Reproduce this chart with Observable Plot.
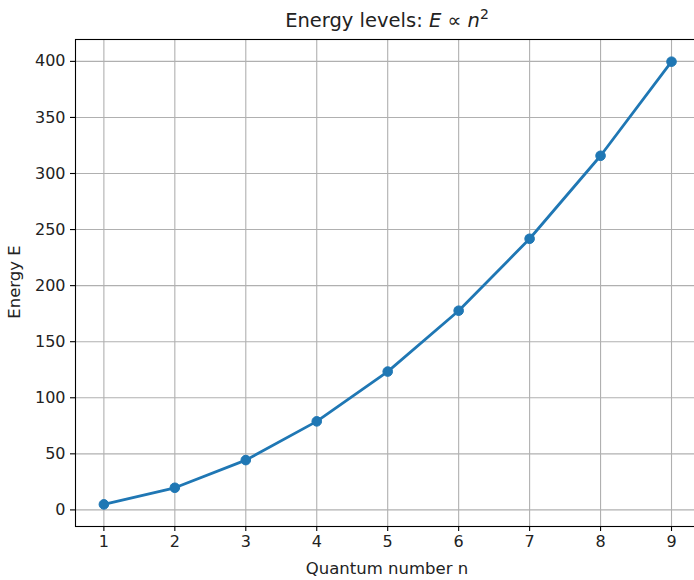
<!DOCTYPE html>
<html><head><meta charset="utf-8">
<script src="https://cdn.jsdelivr.net/npm/d3@7"></script>
<script src="https://cdn.jsdelivr.net/npm/@observablehq/plot@0.6"></script>
<style>body{margin:0;background:#fff;font-family:"DejaVu Sans",sans-serif}</style>
</head><body><div id="chart"></div>
<script>
const quantumN = [1, 2, 3, 4, 5, 6, 7, 8, 9];
const energyE = [4.93, 19.74, 44.41, 78.96, 123.37, 177.65, 241.81, 315.83, 399.72];
const xTicks = [1, 2, 3, 4, 5, 6, 7, 8, 9];
const yTicks = [0, 50, 100, 150, 200, 250, 300, 350, 400];
const data = quantumN.map((n, i) => ({n, E: energyE[i]}));

const W = 694, H = 580;
const plot = Plot.plot({
  width: W, height: H,
  marginLeft: 75, marginRight: -5.4, marginTop: 39, marginBottom: 54,
  style: {fontFamily: "DejaVu Sans, sans-serif", fontSize: "16px", color: "#000", background: "#fff"},
  x: {domain: [0.6, 9.4], ticks: xTicks, label: null},
  y: {domain: [-14.8, 419.5], ticks: yTicks, label: null},
  marks: [
    Plot.ruleX(xTicks, {stroke: "#b0b0b0", strokeWidth: 1.1}),
    Plot.ruleY(yTicks, {stroke: "#b0b0b0", strokeWidth: 1.1}),
    Plot.line(data, {x: "n", y: "E", stroke: "#1f77b4", strokeWidth: 2.8}),
    Plot.dot(data, {x: "n", y: "E", r: 4.8, fill: "#1f77b4", stroke: "#1f77b4", strokeWidth: 1}),
    Plot.frame({stroke: "#000", strokeWidth: 1.1, strokeOpacity: 1}),
    Plot.axisX(xTicks, {tickSize: 5, tickPadding: 4, stroke: "#000", strokeWidth: 1.1, fontSize: 16, fill: "#222", label: null}),
    Plot.axisY(yTicks, {tickSize: 5, tickPadding: 5, stroke: "#000", strokeWidth: 1.1, fontSize: 16, fill: "#222", label: null})
  ]
});
document.getElementById("chart").appendChild(plot);
const svg = d3.select(plot);
const t = svg.append("text").attr("x", 387).attr("y", 27).attr("text-anchor", "middle")
  .attr("font-size", 19.5).attr("fill", "#222").attr("font-family", "DejaVu Sans, sans-serif");
t.append("tspan").text("Energy levels: ");
t.append("tspan").attr("font-style", "italic").text("E");
t.append("tspan").text(" \u221D ");
t.append("tspan").attr("font-style", "italic").text("n");
t.append("tspan").attr("font-size", 14).attr("dy", -8).text("2");
svg.append("text").attr("x", 387).attr("y", 574).attr("text-anchor", "middle")
  .attr("font-size", 16.5).attr("fill", "#222").text("Quantum number n");
svg.append("text").attr("transform", "translate(20,282) rotate(-90)").attr("text-anchor", "middle")
  .attr("font-size", 16.5).attr("fill", "#222").text("Energy E");
</script></body></html>
